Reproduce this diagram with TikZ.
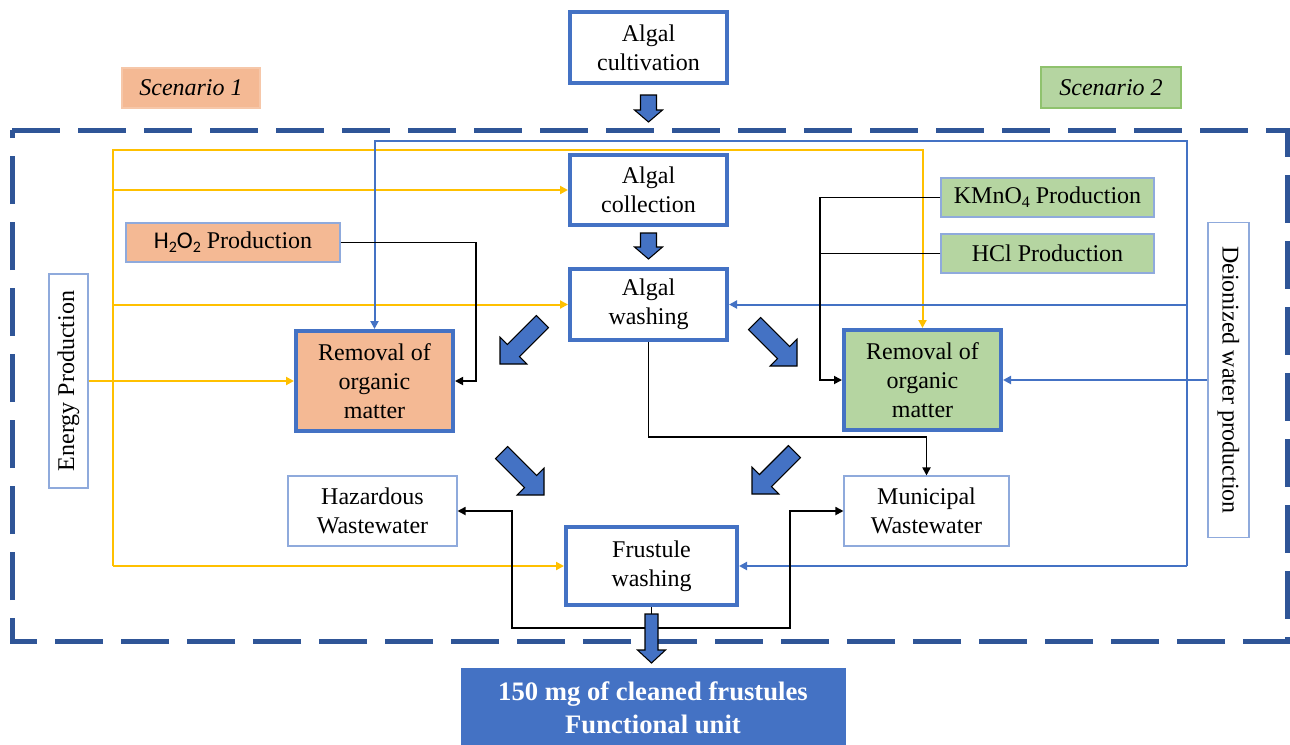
\documentclass[tikz,border=0pt]{standalone}
\usepackage{fontspec}
\setmainfont{Liberation Serif}
\newfontfamily\calib{Carlito}
\usetikzlibrary{arrows.meta}

\definecolor{boxblue}{HTML}{4472C4}
\definecolor{dashblue}{HTML}{2F5597}
\definecolor{thinblue}{HTML}{8FAADC}
\definecolor{feedyellow}{HTML}{FFC000}
\definecolor{orangefill}{HTML}{F4B994}
\definecolor{greenfill}{HTML}{B5D5A1}
\definecolor{greenline}{HTML}{8FC26D}

% lowered small digit for chemical formulas
\newcommand\chemsub[1]{\raisebox{-0.35ex}{\fontsize{12}{12}\selectfont #1}}
% block arrow: tip x, tip y, angle, length, shaft width, head width, head length
\newcommand\blockarrow[7]{%
  \filldraw[blockarr, shift={(#1,#2)}, rotate=#3]
    (0,0) -- (-#7,#6/2) -- (-#7,#5/2) -- (-#4,#5/2) -- (-#4,-#5/2)
    -- (-#7,-#5/2) -- (-#7,-#6/2) -- cycle;}

\begin{document}
\begin{tikzpicture}[x=0.75pt,y=-0.75pt,
  wh/.style 2 args={minimum width=#1*0.75pt, minimum height=#2*0.75pt},
  base/.style={inner sep=0pt, align=center, text=black,
    font=\fontsize{18}{21.5}\selectfont},
  stage/.style={base, draw=boxblue, line width=3pt, fill=white},
  thinbox/.style={base, draw=thinblue, line width=0.8pt, fill=white},
  chembox1/.style={base, draw=thinblue, line width=0.8pt, fill=orangefill},
  chembox2/.style={base, draw=thinblue, line width=0.8pt, fill=greenfill},
  removal1/.style={stage, fill=orangefill},
  removal2/.style={stage, fill=greenfill},
  scen1/.style={base, fill=orangefill, draw=orangefill!80!white, line width=0.8pt,
    font=\fontsize{18}{21.5}\selectfont\itshape},
  scen2/.style={base, fill=greenfill, draw=greenline, line width=2pt,
    font=\fontsize{18}{21.5}\selectfont\itshape},
  fu/.style={base, fill=boxblue, draw=boxblue, text=white,
    font=\fontsize{20}{25}\selectfont\bfseries},
  boundary/.style={draw=dashblue, line width=3.75pt, dash pattern=on 36pt off 13.5pt},
  yline/.style={draw=feedyellow, line width=1.5pt},
  bline/.style={draw=boxblue, line width=1.5pt},
  kline/.style={draw=black, line width=1.3pt},
  tip/.style={-{Triangle[length=6pt,width=6pt]}},
  blockarr/.style={fill=boxblue, draw=black, line width=0.8pt, line join=miter}
]
\useasboundingbox (0,0) rectangle (1290,744);

% system boundary
\draw[boundary] (12,130) -- (1287,130) -- (1287,641) -- (12,641) -- cycle;

% process steps
\node[stage, wh={157}{71}] (cult) at (648.5,47.5) {Algal\\cultivation};
\node[stage, wh={157}{70}] (coll) at (648.5,190) {Algal\\collection};
\node[stage, wh={157}{71}] (wash) at (648.5,304.5) {Algal\\washing};
\node[removal1, wh={157}{100}] (rem1) at (374.5,381) {Removal of\\organic\\matter};
\node[removal2, wh={157}{100}] (rem2) at (922.5,380) {Removal of\\organic\\matter};
\node[thinbox, wh={169}{70}] (haz) at (372.5,511) {Hazardous\\Wastewater};
\node[thinbox, wh={165}{70}] (mun) at (926.5,511) {Municipal\\Wastewater};
\node[stage, wh={171}{78}] (frus) at (651.5,566) {Frustule\\washing};
\node[fu, wh={384}{80}] (fu) at (653,708) {150 mg of cleaned frustules\\Functional unit};

% inputs
\node[chembox1, wh={214}{39}] (h2o2) at (233,242.5) {{\calib H\chemsub{2}O\chemsub{2}} Production};
\node[chembox2, wh={213}{39}] (kmno4) at (1047.5,197.5) {KMnO\chemsub{4} Production};
\node[chembox2, wh={213}{39}] (hcl) at (1047.5,253.5) {HCl Production};
\node[thinbox, rotate=90, wh={214}{39}] (energy) at (68.5,381) {Energy Production};
\node[thinbox, rotate=-90, wh={315}{41}] (deion) at (1228.5,380) {Deionized water production};

% scenario labels
\node[scen1, wh={138}{40}] (s1) at (191,88) {Scenario 1};
\node[scen2, wh={140}{41}] (s2) at (1111,87.5) {Scenario 2};

% energy supply (yellow)
\coordinate (ytop) at (113,150);
\coordinate (ybot) at (113,566);
\draw[yline, tip] (ybot) -- (ytop) -| (rem2.north);
\draw[yline, tip] (ytop |- coll.west) -- (coll.west);
\draw[yline, tip] (ytop |- wash.west) -- (wash.west);
\draw[yline, tip] (energy.south) -- (rem1.west);
\draw[yline, tip] (ybot) -- (frus.west);

% deionized water supply (blue)
\coordinate (btop) at (1187,141);
\coordinate (bbot) at (1187,566);
\draw[bline, tip] (bbot) -- (btop) -| (rem1.north);
\draw[bline, tip] (btop |- wash.east) -- (wash.east);
\draw[bline, tip] (bbot) -- (frus.east);
\draw[bline, tip] (deion.south) -- (rem2.east);

% chemicals and effluents (black)
\draw[kline, tip] (h2o2.east) -- (476,242.5) |- (rem1.east);
\coordinate (kjoin) at (820,253.5);
\draw[kline, tip] (kmno4.west) -| (kjoin) |- (rem2.west);
\draw[kline] (hcl.west) -- (kjoin);
\draw[kline, tip] (wash.south) |- (790,437) -| (mun.north);
\coordinate (fjoin) at (651.5,628);
\draw[kline, tip] (frus.south) -- (fjoin) -| (512,560) |- (haz.east);
\draw[kline, tip] (fjoin) -| (790,560) |- (mun.west);

% main flow arrows
\blockarrow{648.5}{122}{-90}{27}{16}{28}{12}
\blockarrow{648.5}{259}{-90}{26}{16}{28}{12}
\blockarrow{500}{364}{-135}{60}{17}{38}{19}
\blockarrow{797}{366}{-45}{60}{17}{38}{19}
\blockarrow{544}{495}{-45}{60}{17}{38}{19}
\blockarrow{752}{494}{-135}{60}{17}{38}{19}
\blockarrow{651.5}{663}{-90}{49}{13}{28}{13}
\end{tikzpicture}
\end{document}
